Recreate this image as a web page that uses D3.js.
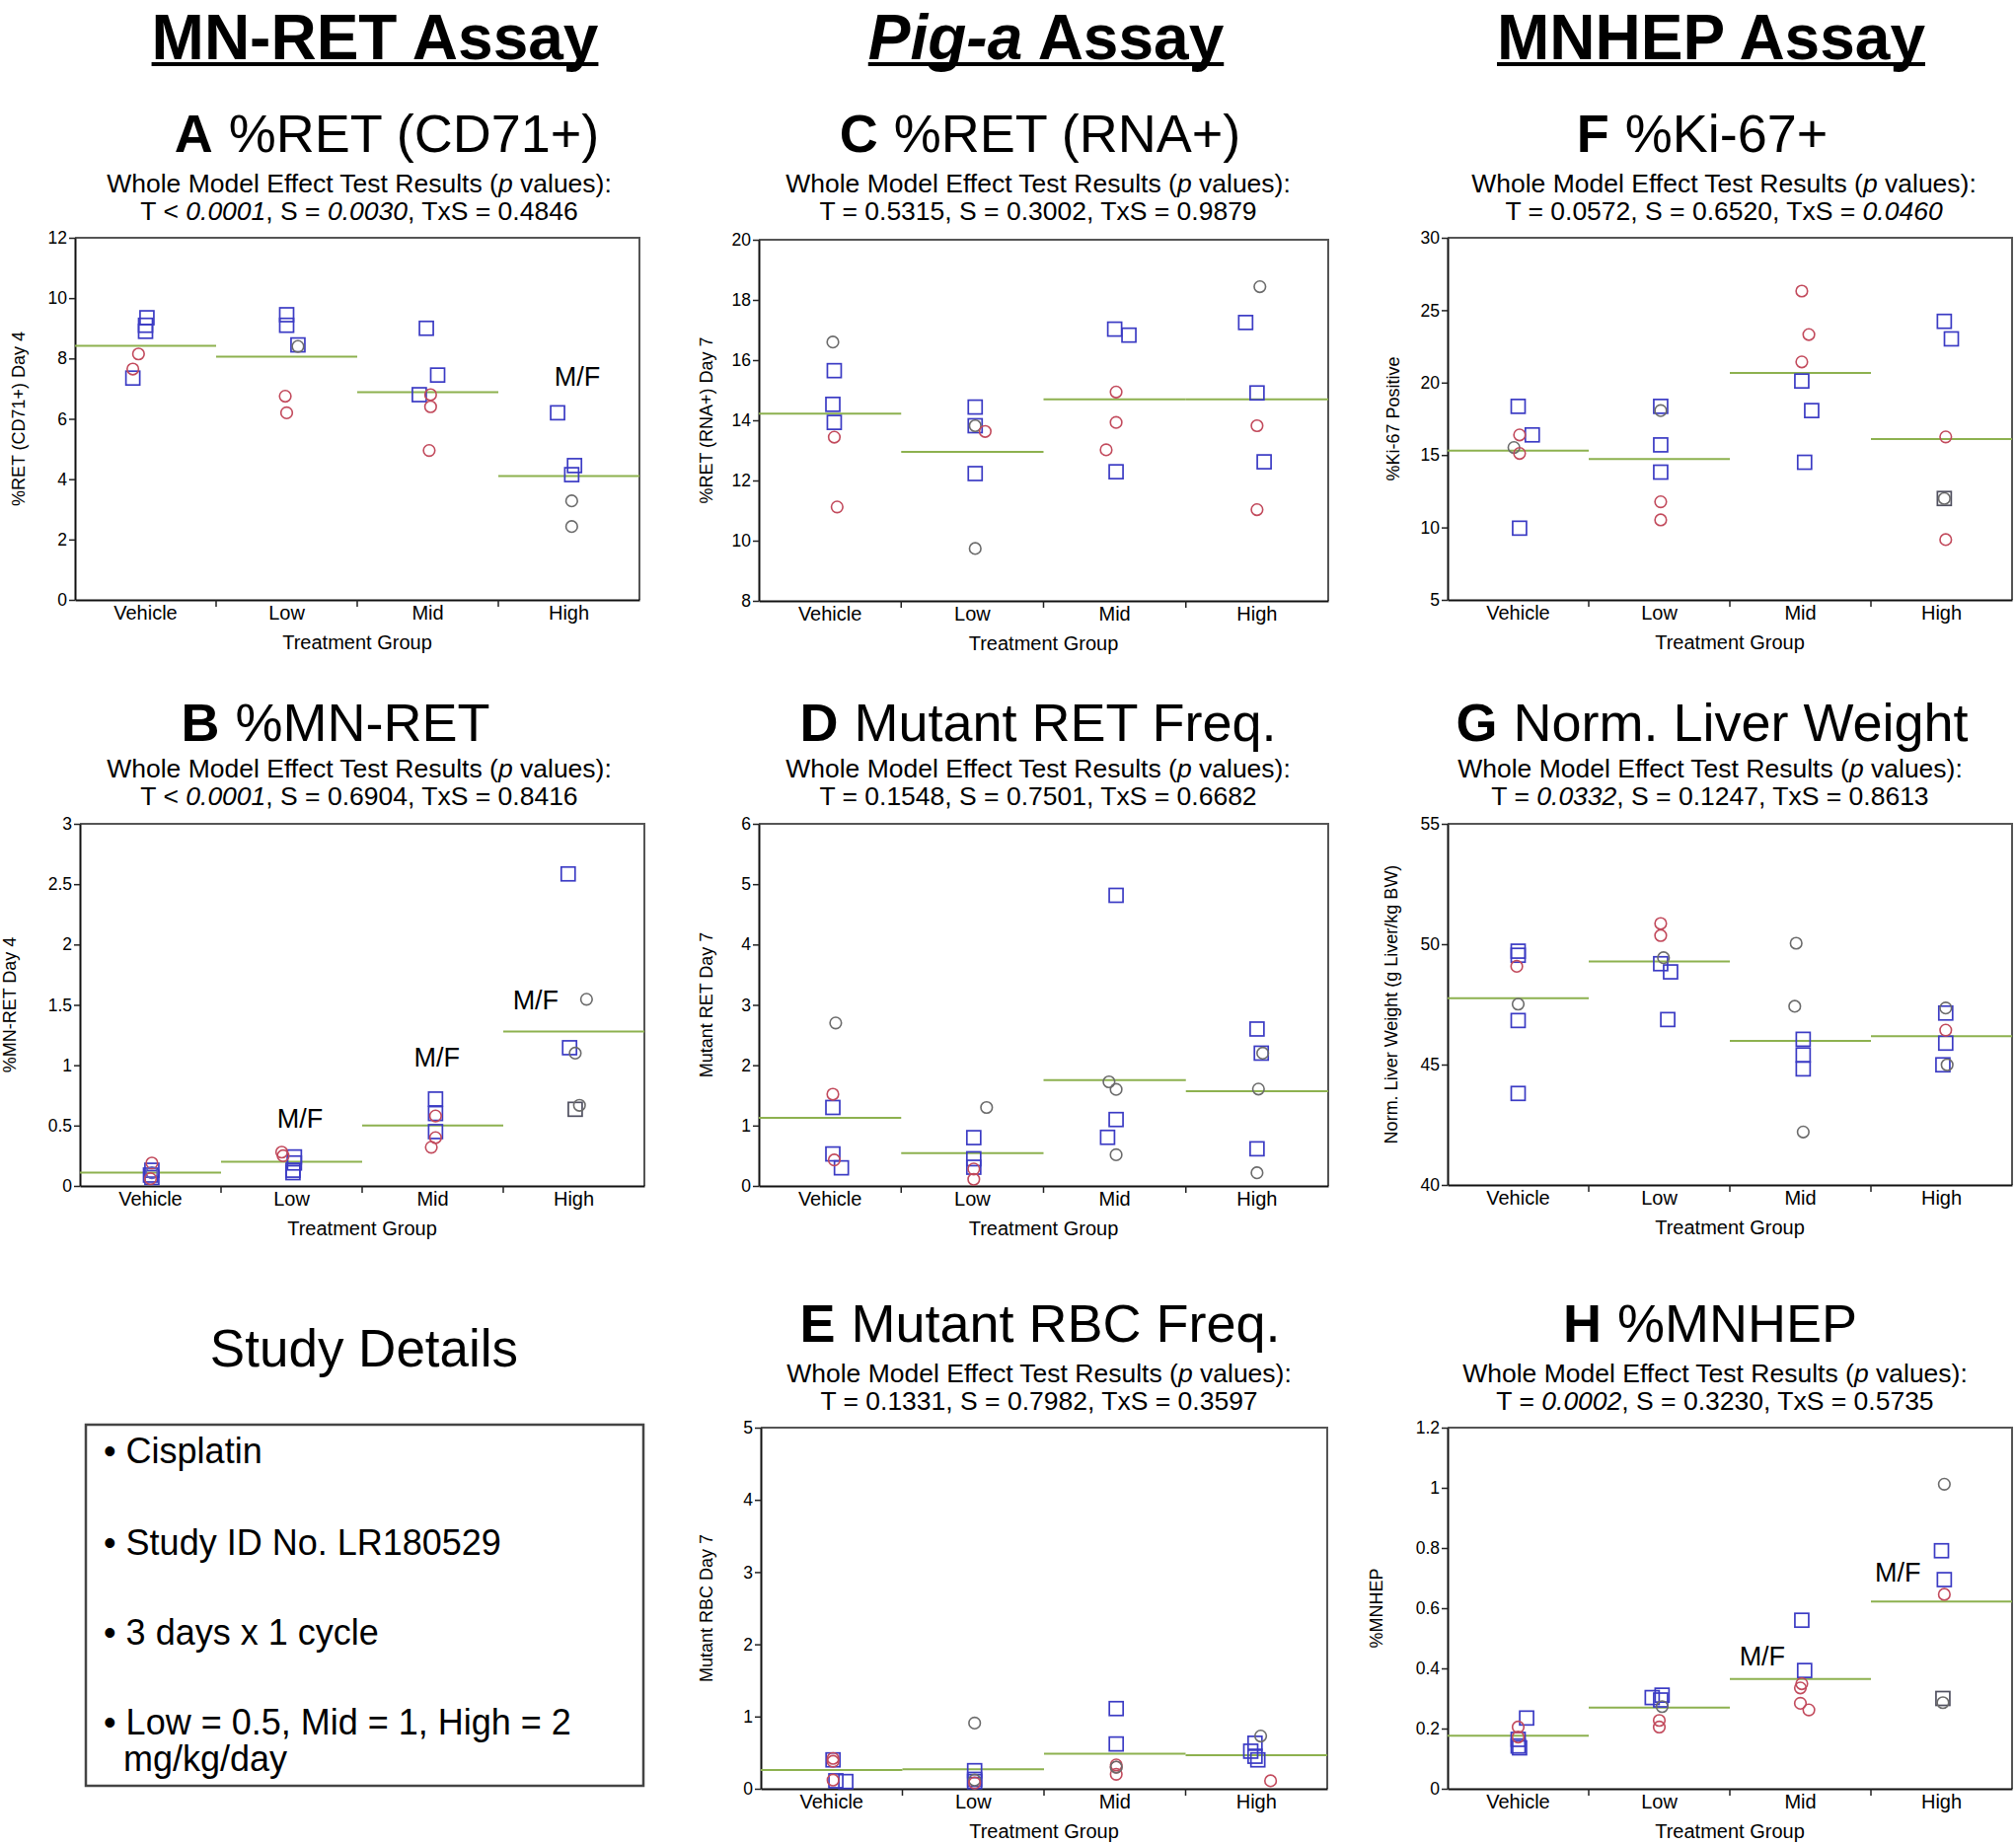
<!DOCTYPE html>
<html><head><meta charset="utf-8">
<script src="https://cdn.jsdelivr.net/npm/d3@7"></script>
<style>
body{margin:0;background:#fff}
svg{display:block}
text{font-family:"Liberation Sans",Arial,Helvetica,sans-serif;fill:#000}
</style>
</head><body>
<svg id="c" width="2043" height="1869"></svg>
<script>
// ---------------- DATA ----------------
const groups = ["Vehicle", "Low", "Mid", "High"];
// point: [group index, value, marker code, jitter (fraction of group width)]
// marker codes: bs = blue square, rc = red circle, gc = grey circle, ks = grey square, bc = blue circle
const ptsA = [
  [0,9.35,"bs",0.01],[0,9.1,"bs",0],[0,8.9,"bs",0],[0,7.35,"bs",-0.09],[0,8.15,"rc",-0.05],[0,7.65,"rc",-0.09],
  [1,9.45,"bs",0],[1,9.1,"bs",0],[1,8.45,"bs",0.08],[1,8.4,"gc",0.08],[1,6.75,"rc",-0.01],[1,6.2,"rc",0],
  [2,9.0,"bs",-0.01],[2,7.45,"bs",0.07],[2,6.8,"bs",-0.06],[2,6.8,"rc",0.02],[2,6.4,"rc",0.02],[2,4.95,"rc",0.01],
  [3,6.2,"bs",-0.08],[3,4.45,"bs",0.04],[3,4.15,"bs",0.02],[3,3.28,"gc",0.02],[3,2.43,"gc",0.02]
];
const meanA = [8.42, 8.06, 6.88, 4.10];
const ticksA = [0,2,4,6,8,10,12];

const ptsB = [
  [0,0.19,"rc",0.01],[0,0.13,"bs",0.01],[0,0.11,"bc",0.01],[0,0.09,"bs",0],[0,0.07,"bs",0.01],[0,0.06,"rc",0],
  [1,0.28,"rc",-0.07],[1,0.25,"rc",-0.06],[1,0.24,"bs",0.02],[1,0.19,"bs",0.02],[1,0.13,"bs",0.01],[1,0.11,"bs",0.01],
  [2,0.72,"bs",0.02],[2,0.6,"bs",0.02],[2,0.58,"rc",0.02],[2,0.45,"bs",0.02],[2,0.4,"rc",0.02],[2,0.32,"rc",-0.01],
  [3,2.585,"bs",-0.04],[3,1.546,"gc",0.09],[3,1.145,"bs",-0.03],[3,1.1,"gc",0.01],[3,0.635,"ks",0.01],[3,0.668,"gc",0.04]
];
const meanB = [0.11, 0.20, 0.50, 1.28];
const ticksB = [0,0.5,1,1.5,2,2.5,3];

const ptsC = [
  [0,16.6,"gc",0.02],[0,15.65,"bs",0.03],[0,14.53,"bs",0.02],[0,13.93,"bs",0.03],[0,13.44,"rc",0.03],[0,11.12,"rc",0.05],
  [1,14.44,"bs",0.02],[1,13.82,"bs",0.02],[1,13.82,"gc",0.02],[1,13.63,"rc",0.09],[1,12.23,"bs",0.02],[1,9.74,"gc",0.02],
  [2,17.03,"bs",0],[2,16.83,"bs",0.1],[2,14.94,"rc",0.01],[2,13.93,"rc",0.01],[2,13.02,"rc",-0.06],[2,12.29,"bs",0.01],
  [3,18.44,"gc",0.02],[3,17.25,"bs",-0.08],[3,14.91,"bs",0],[3,13.82,"rc",0],[3,12.62,"bs",0.05],[3,11.03,"rc",0]
];
const meanC = [14.22, 12.95, 14.70, 14.70];
const ticksC = [8,10,12,14,16,18,20];

const ptsD = [
  [0,2.7,"gc",0.04],[0,1.52,"rc",0.02],[0,1.3,"bs",0.02],[0,0.53,"bs",0.02],[0,0.43,"rc",0.03],[0,0.3,"bs",0.08],
  [1,1.3,"gc",0.1],[1,0.8,"bs",0.01],[1,0.45,"bs",0.01],[1,0.31,"bs",0.01],[1,0.28,"rc",0.01],[1,0.11,"rc",0.01],
  [2,4.815,"bs",0.01],[2,1.725,"gc",-0.04],[2,1.6,"gc",0.01],[2,1.1,"bs",0.01],[2,0.805,"bs",-0.05],[2,0.517,"gc",0.01],
  [3,2.6,"bs",0],[3,2.2,"bs",0.03],[3,2.2,"gc",0.04],[3,1.605,"gc",0.01],[3,0.615,"bs",0],[3,0.218,"gc",0]
];
const meanD = [1.13, 0.544, 1.755, 1.57];
const ticksD = [0,1,2,3,4,5,6];

const ptsE = [
  [0,0.42,"rc",0.01],[0,0.40,"bs",0.01],[0,0.38,"rc",0.01],[0,0.11,"bs",0.03],[0,0.10,"bs",0.1],[0,0.12,"rc",0.01],
  [1,0.91,"gc",0.01],[1,0.25,"bs",0.01],[1,0.13,"bs",0.01],[1,0.10,"bs",0.01],[1,0.12,"gc",0.01],[1,0.08,"rc",0.01],
  [2,1.11,"bs",0.01],[2,0.62,"bs",0.01],[2,0.33,"rc",0.01],[2,0.30,"rc",0.01],[2,0.20,"rc",0.01],[2,0.30,"gc",0.01],
  [3,0.73,"gc",0.03],[3,0.63,"bs",-0.01],[3,0.52,"bs",-0.04],[3,0.45,"bs",-0.01],[3,0.40,"bs",0.01],[3,0.11,"rc",0.1]
];
const meanE = [0.26, 0.27, 0.485, 0.465];
const ticksE = [0,1,2,3,4,5];

const ptsF = [
  [0,18.36,"bs",0],[0,16.39,"rc",0.01],[0,16.39,"bs",0.1],[0,15.52,"gc",-0.03],[0,15.11,"rc",0.01],[0,9.95,"bs",0.01],
  [1,18.36,"bs",0.01],[1,18.07,"gc",0.01],[1,15.7,"bs",0.01],[1,13.82,"bs",0.01],[1,11.77,"rc",0.01],[1,10.52,"rc",0.01],
  [2,26.32,"rc",0.01],[2,23.32,"rc",0.06],[2,21.43,"rc",0.01],[2,20.11,"bs",0.01],[2,18.07,"bs",0.08],[2,14.5,"bs",0.03],
  [3,24.23,"bs",0.02],[3,23.02,"bs",0.07],[3,16.25,"rc",0.03],[3,12.0,"ks",0.02],[3,12.0,"gc",0.02],[3,9.16,"rc",0.03]
];
const meanF = [15.30, 14.73, 20.66, 16.10];
const ticksF = [5,10,15,20,25,30];

const ptsG = [
  [0,49.71,"bs",0],[0,49.54,"bs",0],[0,49.08,"rc",-0.01],[0,47.51,"gc",0],[0,46.83,"bs",0],[0,43.8,"bs",0],
  [1,50.86,"rc",0.01],[1,50.36,"rc",0.01],[1,49.44,"gc",0.03],[1,49.19,"bs",0.01],[1,48.85,"bs",0.08],[1,46.87,"bs",0.06],
  [2,50.04,"gc",-0.03],[2,47.42,"gc",-0.04],[2,46.05,"bs",0.02],[2,45.4,"bs",0.02],[2,44.82,"bs",0.02],[2,42.2,"gc",0.02],
  [3,47.35,"gc",0.03],[3,47.14,"bs",0.03],[3,46.43,"rc",0.03],[3,45.89,"bs",0.03],[3,44.99,"bs",0.01],[3,44.99,"gc",0.04]
];
const meanG = [47.76, 49.28, 45.98, 46.18];
const ticksG = [40,45,50,55];

const ptsH = [
  [0,0.235,"bs",0.06],[0,0.205,"rc",0],[0,0.172,"rc",0],[0,0.164,"bs",0],[0,0.142,"bs",0],[0,0.136,"bs",0.01],
  [1,0.311,"bs",0.02],[1,0.303,"bs",-0.05],[1,0.295,"bs",0.01],[1,0.273,"gc",0.02],[1,0.227,"rc",0],[1,0.205,"rc",0],
  [2,0.56,"bs",0.01],[2,0.393,"bs",0.03],[2,0.349,"rc",0.01],[2,0.335,"rc",0],[2,0.284,"rc",0],[2,0.262,"rc",0.06],
  [3,1.012,"gc",0.02],[3,0.791,"bs",0],[3,0.695,"bs",0.02],[3,0.646,"rc",0.02],[3,0.3,"ks",0.01],[3,0.286,"gc",0.01]
];
const meanH = [0.176, 0.27, 0.365, 0.622];
const ticksH = [0,0.2,0.4,0.6,0.8,1,1.2];

// "M/F" annotations: [group index, value at text baseline, offset (fraction of group width)]
const mfA = [[3,7.1,0.06]];
const mfB = [[1,0.48,0.06],[2,0.99,0.03],[3,1.46,-0.27]];
const mfH = [[2,0.41,-0.27],[3,0.69,-0.31]];

const yLabels = {
  A:"%RET (CD71+) Day 4", B:"%MN-RET Day 4", C:"%RET (RNA+) Day 7", D:"Mutant RET Day 7",
  E:"Mutant RBC Day 7", F:"%Ki-67 Positive", G:"Norm. Liver Weight (g Liver/kg BW)", H:"%MNHEP"
};
const titles = {
  A:"%RET (CD71+)", B:"%MN-RET", C:"%RET (RNA+)", D:"Mutant RET Freq.",
  E:"Mutant RBC Freq.", F:"%Ki-67+", G:"Norm. Liver Weight", H:"%MNHEP"
};
// p-value lines: segments [text, italic]
const pvals = {
  A:[["T < ",0],["0.0001",1],[", S = ",0],["0.0030",1],[", TxS = 0.4846",0]],
  B:[["T < ",0],["0.0001",1],[", S = 0.6904, TxS = 0.8416",0]],
  C:[["T = 0.5315, S = 0.3002, TxS = 0.9879",0]],
  D:[["T = 0.1548, S = 0.7501, TxS = 0.6682",0]],
  E:[["T = 0.1331, S = 0.7982, TxS = 0.3597",0]],
  F:[["T = 0.0572, S = 0.6520, TxS = ",0],["0.0460",1]],
  G:[["T = ",0],["0.0332",1],[", S = 0.1247, TxS = 0.8613",0]],
  H:[["T = ",0],["0.0002",1],[", S = 0.3230, TxS = 0.5735",0]]
};
const headers = [["MN-RET Assay",0],["Pig-a",1," Assay"],["MNHEP Assay",0]];
const studyLines = ["Cisplatin","Study ID No. LR180529","3 days x 1 cycle","Low = 0.5, Mid = 1, High = 2"];
const studyWrap = "mg/kg/day";

// ---------------- LAYOUT ----------------
const svg = d3.select("#c");
const colors = {bs:"#3b3bc4", rc:"#c24a5c", gc:"#6b6b6b", ks:"#505060", bc:"#5d5dc0"};
const fmt = d => String(Math.round(d*100)/100);

const panels = [
  {k:"A", pts:ptsA, mean:meanA, ticks:ticksA, mf:mfA, x0:76, x1:648, y0:241, y1:608, ylx:19,
   tx:392, ty:154, sx:364, sy:195},
  {k:"B", pts:ptsB, mean:meanB, ticks:ticksB, mf:mfB, x0:81, x1:653, y0:835, y1:1202, ylx:10,
   tx:340, ty:751, sx:364, sy:788},
  {k:"C", pts:ptsC, mean:meanC, ticks:ticksC, mf:[], x0:769, x1:1346, y0:243, y1:609, ylx:716,
   tx:1054, ty:154, sx:1052, sy:195},
  {k:"D", pts:ptsD, mean:meanD, ticks:ticksD, mf:[], x0:769, x1:1346, y0:835, y1:1202, ylx:716,
   tx:1052, ty:751, sx:1052, sy:788},
  {k:"E", pts:ptsE, mean:meanE, ticks:ticksE, mf:[], x0:771, x1:1345, y0:1447, y1:1813, ylx:716,
   tx:1054, ty:1360, sx:1053, sy:1401},
  {k:"F", pts:ptsF, mean:meanF, ticks:ticksF, mf:[], x0:1467, x1:2039, y0:241, y1:608, ylx:1412,
   tx:1725, ty:154, sx:1747, sy:195},
  {k:"G", pts:ptsG, mean:meanG, ticks:ticksG, mf:[], x0:1467, x1:2039, y0:835, y1:1201, ylx:1410,
   tx:1735, ty:751, sx:1733, sy:788},
  {k:"H", pts:ptsH, mean:meanH, ticks:ticksH, mf:mfH, x0:1467, x1:2039, y0:1447, y1:1813, ylx:1395,
   tx:1733, ty:1360, sx:1738, sy:1401}
];

function drawPanel(p) {
  const g = svg.append("g");
  const x = d3.scaleBand().domain(groups).range([p.x0, p.x1]).padding(0);
  const y = d3.scaleLinear().domain(d3.extent(p.ticks)).range([p.y1, p.y0]);
  const bw = x.bandwidth();

  // frame (top + right)
  g.append("path").attr("d", `M${p.x0},${p.y0}H${p.x1}V${p.y1}`)
    .attr("fill","none").attr("stroke","#555").attr("stroke-width",2);

  // y axis
  const ya = g.append("g").attr("transform",`translate(${p.x0},0)`)
    .call(d3.axisLeft(y).tickValues(p.ticks).tickFormat(fmt).tickSize(6).tickSizeOuter(0).tickPadding(2));
  ya.select(".domain").attr("stroke","#111").attr("stroke-width",2);
  ya.selectAll(".tick line").attr("stroke","#222").attr("stroke-width",1.5);
  ya.selectAll(".tick text").attr("font-size",17.5).attr("fill","#000")
    .style("font-family","'Liberation Sans',Arial,sans-serif");

  // x axis
  const xa = g.append("g").attr("transform",`translate(0,${p.y1})`)
    .call(d3.axisBottom(x).tickSize(0).tickSizeOuter(0).tickPadding(6));
  xa.select(".domain").attr("stroke","#111").attr("stroke-width",2);
  xa.selectAll(".tick text").attr("font-size",20).attr("fill","#000")
    .style("font-family","'Liberation Sans',Arial,sans-serif");
  // separators between groups
  g.selectAll(".sep").data(groups.slice(1)).join("line")
    .attr("x1", d => x(d)).attr("x2", d => x(d))
    .attr("y1", p.y1).attr("y2", p.y1 + 7)
    .attr("stroke","#222").attr("stroke-width",1.5);

  // x title
  g.append("text").attr("x",(p.x0+p.x1)/2).attr("y",p.y1+50).attr("text-anchor","middle")
    .attr("font-size",20).text("Treatment Group");
  // y title
  g.append("text").attr("transform",`translate(${p.ylx},${(p.y0+p.y1)/2}) rotate(-90)`)
    .attr("text-anchor","middle").attr("dy","0.35em").attr("font-size",18).text(yLabels[p.k]);

  // mean lines
  g.selectAll(".mean").data(p.mean).join("line")
    .attr("x1",(d,i)=>x(groups[i])).attr("x2",(d,i)=>x(groups[i])+bw)
    .attr("y1",d=>y(d)).attr("y2",d=>y(d))
    .attr("stroke","#8db14f").attr("stroke-width",2);

  // points
  const cx = d => x(groups[d[0]]) + bw/2 + d[3]*bw;
  g.selectAll(".sq").data(p.pts.filter(d=>d[2].endsWith("s"))).join("rect")
    .attr("x", d => cx(d) - 7).attr("y", d => y(d[1]) - 7)
    .attr("width",14).attr("height",14).attr("fill","none")
    .attr("stroke", d => colors[d[2]]).attr("stroke-width",1.7);
  g.selectAll(".ci").data(p.pts.filter(d=>d[2].endsWith("c"))).join("circle")
    .attr("cx", cx).attr("cy", d => y(d[1])).attr("r",5.8).attr("fill","none")
    .attr("stroke", d => colors[d[2]]).attr("stroke-width",1.6);

  // M/F annotations
  g.selectAll(".mf").data(p.mf).join("text")
    .attr("x", d => x(groups[d[0]]) + bw/2 + d[2]*bw).attr("y", d => y(d[1]))
    .attr("text-anchor","middle").attr("font-size",27).text("M/F");

  // title
  const t = svg.append("text").attr("x",p.tx).attr("y",p.ty).attr("text-anchor","middle").attr("font-size",54);
  t.append("tspan").attr("font-weight","bold").text(p.k);
  t.append("tspan").attr("dx",16).text(titles[p.k]);

  // subtitle lines
  const s1 = svg.append("text").attr("x",p.sx).attr("y",p.sy).attr("text-anchor","middle").attr("font-size",26.5);
  s1.append("tspan").text("Whole Model Effect Test Results (");
  s1.append("tspan").attr("font-style","italic").text("p");
  s1.append("tspan").text(" values):");
  const s2 = svg.append("text").attr("x",p.sx).attr("y",p.sy+28).attr("text-anchor","middle").attr("font-size",26.5);
  pvals[p.k].forEach(seg => s2.append("tspan").attr("font-style", seg[1] ? "italic" : "normal").text(seg[0]));
}
panels.forEach(drawPanel);

// headers
const headerX = [380, 1060, 1734];
headers.forEach((h,i) => {
  const t = svg.append("text").attr("x",headerX[i]).attr("y",60).attr("text-anchor","middle")
    .attr("font-size",64).attr("font-weight","bold");
  t.append("tspan").attr("font-style", h[1] ? "italic" : "normal").text(h[0]);
  if (h[2]) t.append("tspan").text(h[2]);
  const w = t.node().getComputedTextLength();
  svg.append("rect").attr("x",headerX[i]-w/2).attr("y",63).attr("width",w).attr("height",4).attr("fill","#000");
});

// study details
svg.append("text").attr("x",369).attr("y",1385).attr("text-anchor","middle").attr("font-size",53).text("Study Details");
svg.append("rect").attr("x",87).attr("y",1444).attr("width",565).attr("height",366)
  .attr("fill","none").attr("stroke","#444").attr("stroke-width",2.5);
const lineY = [1483, 1576, 1667, 1758];
studyLines.forEach((s,i) => {
  svg.append("text").attr("x",105).attr("y",lineY[i]).attr("font-size",36).text("\u2022 " + s);
});
svg.append("text").attr("x",125).attr("y",1795).attr("font-size",36).text(studyWrap);
</script>
</body></html>
